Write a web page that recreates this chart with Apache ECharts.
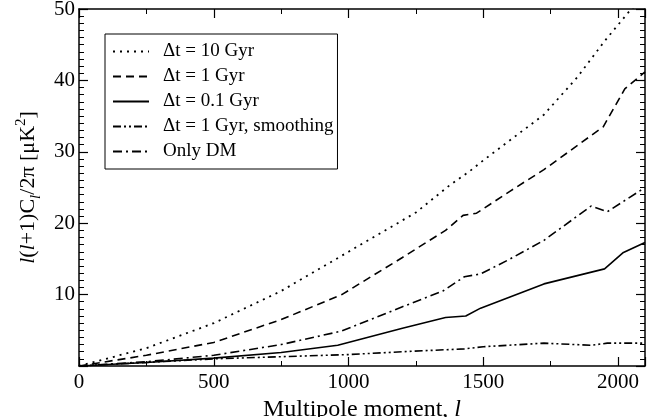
<!DOCTYPE html>
<html>
<head>
<meta charset="utf-8">
<script src="https://cdn.jsdelivr.net/npm/echarts@6/dist/echarts.min.js"></script>
<style>
html,body{margin:0;padding:0;background:#fff;}
#c{width:657px;height:417px;}
</style>
</head>
<body>
<div id="c"></div>
<script>
// Data: [multipole l, value]
const seriesNames = ['\u0394t = 10 Gyr', '\u0394t = 1 Gyr', '\u0394t = 0.1 Gyr', '\u0394t = 1 Gyr, smoothing', 'Only DM'];
const dt10 = [[0,0],[100,1.0],[250,2.5],[500,6.0],[750,10.5],[1000,16.0],[1250,21.5],[1375,25.3],[1450,27.3],[1500,28.8],[1725,35.2],[1850,40.5],[1950,45.5],[2040,49.6],[2100,52]];
const dt1 = [[0,0],[250,1.5],[500,3.3],[750,6.5],[975,10.0],[1200,15.2],[1360,19.0],[1425,21.1],[1475,21.4],[1600,24.5],[1725,27.5],[1945,33.5],[2025,38.8],[2100,41.2]];
const dt01 = [[0,0],[250,0.5],[500,1.1],[750,1.9],[960,2.9],[1200,5.3],[1360,6.8],[1435,7.0],[1490,8.1],[1725,11.5],[1950,13.6],[2020,15.9],[2100,17.3]];
const dt1smooth = [[0,0],[250,0.5],[500,1.0],[750,1.3],[1000,1.6],[1200,2.0],[1430,2.4],[1500,2.7],[1725,3.2],[1900,2.9],[1960,3.2],[2100,3.2]];
const onlyDM = [[0,0],[250,0.6],[500,1.5],[750,3.0],[975,4.9],[1200,8.3],[1350,10.5],[1430,12.5],[1490,12.9],[1600,15.0],[1725,17.6],[1900,22.4],[1960,21.6],[2100,25.0]];
const xTicks = [0, 500, 1000, 1500, 2000];
const yTicks = [10, 20, 30, 40, 50];

const FONT = '"Liberation Serif", "DejaVu Serif", serif';
const dashes = [[2,5],[8,5],'solid',[8,3,2,3,2,3],[9,4,2,4]];
const widths = [1.8,1.6,1.6,1.6,1.6];
const datas = [dt10, dt1, dt01, dt1smooth, onlyDM];

const chart = echarts.init(document.getElementById('c'), null, {renderer:'canvas'});
function mkAxis(extra){
  return Object.assign({
    type:'value',
    axisLine:{show:true,onZero:false,lineStyle:{color:'#000',width:1.5}},
    axisTick:{show:true,inside:false,length:-9,lineStyle:{color:'#000',width:1.2}},
    splitLine:{show:false}
  }, extra);
}
const option = {
  animation:false,
  backgroundColor:'#fff',
  grid:{left:79,right:12,top:9,bottom:51,containLabel:false,outerBoundsMode:'none'},
  legend:{
    orient:'vertical', left:105, top:34,
    data:seriesNames,
    itemWidth:36, itemHeight:14, itemGap:6,
    padding:[8,4,8,7],
    borderColor:'#000', borderWidth:1, borderRadius:0,
    backgroundColor:'#fff',
    itemStyle:{color:'rgba(0,0,0,0)',borderWidth:0,opacity:0},
    textStyle:{fontFamily:FONT,fontSize:19,lineHeight:19,color:'#000',padding:[0,0,0,9]}
  },
  xAxis:[
    mkAxis({min:0,max:2100,interval:500,position:'bottom',
      name:'{n|Multipole moment, }{i|l}',nameLocation:'middle',nameGap:30,
      nameTextStyle:{rich:{n:{fontFamily:FONT,fontSize:24,color:'#000'},i:{fontFamily:FONT,fontSize:24,fontStyle:'italic',color:'#000'}}},
      axisLabel:{fontFamily:FONT,fontSize:21,color:'#000',margin:6,showMaxLabel:false,formatter:v=>xTicks.includes(v)?String(v):''},
      minorTick:{show:true,splitNumber:2,length:-5,lineStyle:{color:'#000',width:1}}
    }),
    mkAxis({min:0,max:2100,interval:500,position:'top',
      minorTick:{show:true,splitNumber:2,length:-5,lineStyle:{color:'#000',width:1}},
      axisLabel:{show:false}})
  ],
  yAxis:[
    mkAxis({min:0,max:50,interval:10,position:'left',
      name:'{i|l}{n|(}{i|l}{n|+1)C}{sub|l}{n|/2\u03c0 [\u03bcK}{sup|2}{n|]}',
      nameLocation:'middle',nameGap:46,nameRotate:90,
      nameTextStyle:{align:'center',verticalAlign:'middle',rich:{
        n:{fontFamily:FONT,fontSize:22,color:'#000',lineHeight:30,verticalAlign:'middle'},
        i:{fontFamily:FONT,fontSize:22,fontStyle:'italic',color:'#000',lineHeight:30,verticalAlign:'middle'},
        sub:{fontFamily:FONT,fontSize:15,fontStyle:'italic',color:'#000',lineHeight:30,verticalAlign:'bottom'},
        sup:{fontFamily:FONT,fontSize:15,color:'#000',lineHeight:30,verticalAlign:'top'}
      }},
      minorTick:{show:true,splitNumber:10,length:-5,lineStyle:{color:'#000',width:1}},
      axisLabel:{fontFamily:FONT,fontSize:21,color:'#000',margin:4,formatter:v=>yTicks.includes(v)?String(v):''}
    }),
    mkAxis({min:0,max:50,interval:10,position:'right',
      minorTick:{show:true,splitNumber:10,length:-5,lineStyle:{color:'#000',width:1}},
      axisLabel:{show:false}})
  ],
  series: datas.map((d,i)=>({
    name:seriesNames[i], type:'line', data:d, xAxisIndex:0, yAxisIndex:0,
    symbol:'none', clip:true,
    lineStyle:{color:'#000',width:widths[i],type:dashes[i]},
    itemStyle:{color:'#000'}
  }))
};
chart.setOption(option);
</script>
</body>
</html>
